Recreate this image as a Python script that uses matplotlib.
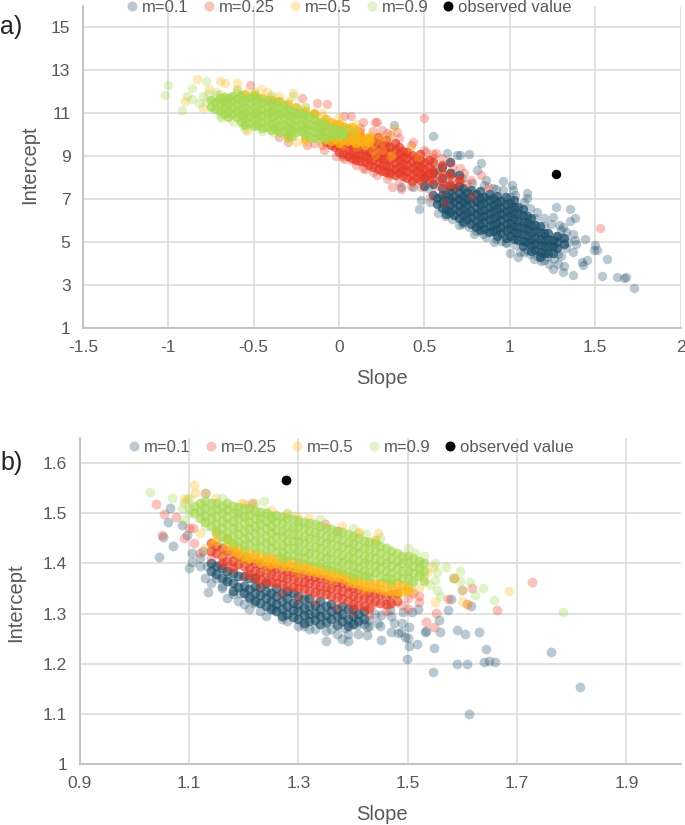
import matplotlib
matplotlib.use("Agg")
import numpy as np
import matplotlib.pyplot as plt
from matplotlib.lines import Line2D

plt.rcParams["font.family"] = ["Liberation Sans", "DejaVu Sans"]

NAMES = ["m=0.1", "m=0.25", "m=0.5", "m=0.9"]
COLORS = ["#1B4E69", "#E83A26", "#FDB714", "#A5D84E"]
OBSERVED = "observed value"

# panel a) dense parts, one (slope, [intercepts]) per column of the cloud
a_m01_core = [
    (0.60, [7.2, 6.85, 6.6]), (0.65, [7.35, 7.0, 6.72, 6.4]), (0.70, [7.3, 7.02, 6.7, 6.42, 6.1]),
    (0.75, [7.34, 6.98, 6.7, 6.38, 6.08]), (0.80, [7.22, 6.9, 6.6, 6.3, 6.0, 5.72]),
    (0.85, [7.1, 6.82, 6.5, 6.2, 5.92, 5.6]), (0.90, [7.04, 6.7, 6.42, 6.1, 5.8, 5.5]),
    (0.95, [6.9, 6.6, 6.3, 6.02, 5.7, 5.42]), (1.00, [6.8, 6.5, 6.22, 5.9, 5.6, 5.3]),
    (1.05, [6.62, 6.3, 6.0, 5.72, 5.4, 5.1]), (1.10, [6.2, 5.9, 5.6, 5.3, 5.0]),
    (1.15, [5.8, 5.52, 5.2, 4.9, 4.62]), (1.20, [5.4, 5.1, 4.82, 4.5]), (1.25, [5.1, 4.8, 4.5]),
    (0.575, [7.05, 6.75]), (0.625, [7.2, 6.9, 6.55, 6.3]), (0.675, [7.5, 7.15, 6.85, 6.55, 6.25]),
    (0.725, [7.5, 7.15, 6.85, 6.55, 6.25, 5.95]), (0.775, [7.4, 7.1, 6.8, 6.45, 6.15, 5.85]),
    (0.825, [7.35, 7.05, 6.75, 6.45, 6.15, 5.85, 5.55]), (0.875, [7.25, 6.95, 6.65, 6.35, 6.05, 5.75, 5.45]),
    (0.925, [7.15, 6.85, 6.55, 6.2, 5.9, 5.6, 5.3]), (0.975, [7.1, 6.75, 6.45, 6.15, 5.85, 5.55, 5.2]),
    (1.025, [6.95, 6.65, 6.35, 6.05, 5.75, 5.45, 5.15]), (1.075, [6.55, 6.25, 5.95, 5.65, 5.35, 5.05, 4.8]),
    (1.125, [6.1, 5.8, 5.45, 5.15, 4.85, 4.6]), (1.175, [5.75, 5.45, 5.15, 4.85, 4.55, 4.3]),
    (1.225, [5.4, 5.15, 4.8, 4.5]), (1.275, [5.3, 5.0, 4.7]), (1.32, [5.2, 4.9]),
    (0.50, [7.6, 8.0]), (0.55, [7.2, 7.7, 8.2]), (0.60, [7.5, 8.0, 8.5]), (0.65, [7.6, 8.2, 8.7]), (0.70, [7.6, 8.1]),
]
a_m025_core = [
    (-0.05, [9.5, 9.8]), (0.00, [9.2, 9.5, 9.8]), (0.05, [9.0, 9.3, 9.6, 9.9]),
    (0.10, [8.8, 9.1, 9.4, 9.7]), (0.15, [8.7, 9.0, 9.3, 9.6]), (0.20, [8.5, 8.8, 9.1, 9.4, 9.7]),
    (0.25, [8.3, 8.6, 8.9, 9.2, 9.5]), (0.30, [8.2, 8.5, 8.8, 9.1, 9.4]),
    (0.35, [8.2, 8.5, 8.8, 9.1, 9.4]), (0.40, [8.0, 8.3, 8.6, 8.9, 9.2]),
    (0.45, [8.0, 8.3, 8.6, 8.9]), (0.50, [8.1, 8.4, 8.7]),
    (-0.075, [9.65]), (-0.025, [9.4, 9.65, 9.95]), (0.025, [9.1, 9.4, 9.7, 10.0]),
    (0.075, [8.9, 9.2, 9.5, 9.8, 10.05]), (0.125, [8.75, 9.05, 9.35, 9.65, 9.95]),
    (0.175, [8.6, 8.9, 9.2, 9.5, 9.8]), (0.225, [8.4, 8.7, 9.0, 9.3, 9.6, 9.9]),
    (0.275, [8.25, 8.55, 8.85, 9.15, 9.45, 9.75]), (0.325, [8.1, 8.4, 8.7, 9.0, 9.3, 9.6]),
    (0.375, [8.05, 8.35, 8.65, 8.95, 9.25]), (0.425, [7.85, 8.15, 8.45, 8.75, 9.05]),
    (0.475, [7.9, 8.2, 8.5, 8.8, 9.1]), (0.525, [7.9, 8.2, 8.5, 8.8]),
    (0.55, [8.0, 8.3, 8.7]), (0.60, [7.8, 8.2, 8.6]), (0.65, [7.7, 8.1]), (0.70, [7.9]),
]
a_m05_core = [
    (-0.55, [11.9]), (-0.45, [11.7]), (-0.40, [11.6]), (-0.30, [11.4, 9.9]), (-0.20, [11.1, 9.8]),
    (-0.10, [9.9, 10.2, 10.6]), (-0.05, [9.7, 10.0, 10.3, 10.6]), (0.00, [9.6, 9.9, 10.2, 10.5]),
    (0.05, [9.7, 10.0, 10.3]), (0.10, [9.6, 9.9, 10.2]), (0.15, [9.5, 9.8]),
    (-0.075, [10.4, 10.7, 9.8]), (-0.025, [9.8, 10.15, 10.5]), (0.025, [9.75, 10.1, 10.4]),
    (0.075, [9.75, 10.05, 10.35]), (0.125, [9.7, 10.0]), (0.175, [9.65, 9.9]),
    (-0.50, [11.85]), (-0.35, [11.55]), (-0.25, [11.3]), (-0.15, [11.0, 10.95]),
]
a_m09_core = [
    (-0.75, [11.6, 11.3]), (-0.70, [11.7, 11.4, 11.1]), (-0.65, [11.7, 11.4, 11.1, 10.8]),
    (-0.60, [11.72, 11.4, 11.1, 10.8]), (-0.55, [11.6, 11.3, 11.0, 10.7, 10.42]),
    (-0.50, [11.6, 11.3, 11.0, 10.7, 10.4]), (-0.45, [11.5, 11.2, 10.9, 10.6, 10.3]),
    (-0.40, [11.4, 11.1, 10.8, 10.5, 10.2]), (-0.35, [11.3, 11.0, 10.7, 10.4, 10.12]),
    (-0.30, [11.2, 10.9, 10.6, 10.3, 10.02]), (-0.25, [11.0, 10.7, 10.4, 10.1]),
    (-0.20, [10.9, 10.6, 10.3, 10.0]), (-0.15, [10.7, 10.4, 10.1, 9.82]),
    (-0.10, [10.5, 10.2, 9.92]), (-0.05, [10.3, 10.0]), (0.00, [10.2, 10.0]),
    (-0.725, [11.5, 11.2]), (-0.675, [11.75, 11.5, 11.25, 10.95]), (-0.625, [11.8, 11.55, 11.25, 10.95]),
    (-0.575, [11.85, 11.5, 11.2, 10.9, 10.6]), (-0.525, [11.75, 11.45, 11.15, 10.85, 10.55]),
    (-0.475, [11.7, 11.35, 11.05, 10.75, 10.45]), (-0.425, [11.6, 11.3, 11.0, 10.7, 10.35]),
    (-0.375, [11.5, 11.2, 10.9, 10.6, 10.3]), (-0.325, [11.35, 11.05, 10.75, 10.45, 10.15]),
    (-0.275, [11.1, 10.8, 10.5, 10.2, 9.95]), (-0.225, [11.0, 10.75, 10.45, 10.15]),
    (-0.175, [10.8, 10.5, 10.2, 9.9]), (-0.125, [10.6, 10.3, 10.0]), (-0.075, [10.4, 10.1, 9.85]),
    (-0.025, [10.25, 10.0]), (0.025, [10.15, 10.0]),
]

# panel a) scattered points, read one by one
a_m01_edge = [
    (1.73, 2.84), (1.67, 3.31), (1.68, 3.36), (1.63, 3.39), (1.54, 3.42), (1.57, 4.22), (1.50, 4.86),
    (1.51, 4.63), (1.49, 4.63), (1.44, 5.16), (1.38, 5.09), (1.39, 4.91), (1.37, 4.55), (1.37, 3.47),
    (1.42, 4.08), (1.45, 4.16), (1.43, 3.93), (1.31, 3.62), (1.25, 3.73), (1.23, 4.0), (1.32, 3.88),
    (1.28, 4.0), (1.35, 6.53), (1.38, 6.1), (1.35, 6.0), (1.27, 6.63), (1.25, 6.15), (1.31, 5.71),
    (1.29, 5.79), (1.0, 4.5), (1.05, 4.32), (1.06, 4.55), (0.91, 5.0), (0.79, 5.36), (0.70, 5.79),
    (0.76, 5.71), (0.62, 6.22), (0.47, 6.55), (0.55, 9.95), (0.32, 10.44), (0.63, 9.16), (0.69, 9.05),
    (0.71, 9.05), (0.76, 9.09), (0.83, 8.69), (0.81, 8.35), (0.86, 7.88), (0.96, 7.85), (1.01, 7.65),
    (1.1, 7.26), (1.1, 7.03), (1.16, 6.41), (1.02, 7.42), (0.36, 7.54), (0.43, 7.54), (0.53, 6.88),
    (0.48, 6.95), (0.52, 7.5), (0.58, 8.4), (0.66, 8.2), (0.72, 8.0), (0.9, 7.5), (1.0, 7.1), (1.15, 6.1),
    (1.2, 5.75), (1.3, 5.2), (1.33, 4.7), (1.28, 4.45), (1.22, 4.3), (1.12, 4.45), (0.95, 5.05), (0.84, 5.35),
    (0.58, 6.35), (0.66, 6.05), (0.72, 5.85), (0.8, 5.5), (0.86, 5.25), (0.92, 5.12), (0.98, 4.95), (1.03, 4.85),
    (1.1, 4.65), (1.16, 4.35), (1.2, 4.15), (1.26, 4.2), (1.3, 4.35), (1.34, 5.0), (1.37, 5.35), (1.3, 5.55),
    (1.24, 5.85), (1.2, 6.1), (1.12, 6.6), (1.08, 6.85), (1.03, 7.2), (0.96, 7.4), (0.92, 7.45), (0.85, 7.65),
    (0.78, 7.75), (1.33, 5.45), (1.27, 5.3), (1.24, 4.9), (1.18, 4.1), (1.14, 4.2), (1.08, 4.55), (0.98, 5.0),
]
a_m025_edge = [
    (0.5, 10.78), (1.53, 5.64), (0.78, 7.14), (0.87, 7.54), (0.83, 8.12), (0.71, 8.43), (0.65, 8.74),
    (0.57, 9.12), (0.51, 9.2), (0.77, 7.88), (0.71, 7.88), (0.61, 7.42), (0.62, 6.88), (0.53, 7.1),
    (0.36, 7.45), (0.31, 7.54), (0.29, 8.1), (0.22, 10.6), (0.34, 10.13), (0.43, 9.67), (0.55, 8.35),
    (0.59, 7.88), (0.65, 8.0), (0.69, 7.73), (0.63, 7.6), (0.47, 8.66), (0.51, 8.08), (0.56, 7.6),
    (-0.52, 12.28), (-0.22, 11.7), (-0.13, 11.47), (-0.07, 11.44), (0.07, 10.88), (0.14, 10.56),
    (0.21, 10.6), (-0.35, 9.88), (-0.3, 9.67), (-0.19, 9.52), (-0.09, 9.28), (0.02, 8.97), (0.07, 8.8),
    (0.14, 8.42), (0.2, 8.27), (0.03, 10.85), (0.12, 10.3), (0.25, 10.2), (0.3, 10.0), (0.55, 8.9),
    (-0.02, 9.0), (0.03, 8.85), (0.1, 8.6), (0.15, 8.4), (0.22, 8.1), (0.28, 7.95), (0.35, 7.8), (0.42, 7.6),
    (0.48, 7.55), (0.12, 10.1), (0.2, 10.15), (0.28, 10.05), (0.35, 9.85), (0.42, 9.5), (0.5, 9.3), (0.55, 9.1),
    (0.6, 8.9), (0.66, 8.5), (0.73, 8.2), (0.75, 7.7), (0.68, 7.5), (-0.1, 9.5), (-0.15, 9.6),
]
a_m05_edge = [
    (-0.83, 12.6), (-0.70, 12.48), (-0.67, 12.4), (-0.6, 12.38), (-0.54, 10.17), (-0.8, 11.23),
    (-0.9, 11.55), (-0.27, 11.94), (-0.46, 12.1), (-0.42, 12.0), (-0.35, 11.8), (-0.76, 12.1),
    (-0.25, 9.67), (0.25, 9.3), (0.3, 9.0), (0.2, 9.9), (0.18, 9.98), (0.2, 9.6), (0.21, 9.05),
    (0.31, 9.05), (0.42, 9.43), (0.46, 8.94), (0.24, 9.9), (0.29, 9.93), (0.32, 10.3), (-0.1, 11.0),
    (0.0, 10.8), (0.1, 10.5), (-0.7, 11.9), (-0.6, 12.1), (-0.5, 12.0), (-0.4, 11.75), (-0.3, 11.55),
    (-0.2, 11.3), (-0.1, 10.85), (-0.3, 10.0), (-0.2, 9.65), (-0.1, 9.6), (0.02, 9.45), (0.1, 9.4),
    (0.2, 9.3), (0.25, 9.7),
]
a_m09_edge = [
    (-1.0, 12.28), (-1.02, 11.84), (-0.92, 11.13), (-0.78, 12.47), (-0.86, 12.14), (-0.89, 11.78),
    (-0.86, 11.63), (-0.82, 11.47), (-0.8, 11.78), (-0.27, 11.78), (-0.69, 10.77), (-0.56, 10.45),
    (-0.72, 12.0), (-0.6, 12.05), (-0.5, 11.95), (-0.4, 11.85), (-0.2, 11.3),
    (-0.78, 11.5), (-0.77, 11.9), (-0.72, 11.85), (-0.7, 10.85), (-0.62, 10.6), (-0.55, 10.25), (-0.45, 10.15),
    (-0.38, 10.05), (-0.3, 9.85), (-0.6, 11.95), (-0.5, 11.85), (-0.35, 11.5), (-0.25, 11.25), (-0.15, 10.95),
    (-0.08, 10.65), (0.04, 10.3), (0.08, 10.1), (-0.12, 9.8),
]
a_observed = [(1.27, 8.15)]

# panel b) dense parts
b_m01_core = [
    (1.14, [1.40, 1.385]), (1.16, [1.39, 1.37]), (1.18, [1.38, 1.36, 1.345]), (1.20, [1.375, 1.355, 1.34]),
    (1.22, [1.37, 1.355, 1.34, 1.325]), (1.24, [1.36, 1.345, 1.33, 1.315]), (1.26, [1.35, 1.335, 1.32, 1.305]),
    (1.28, [1.345, 1.33, 1.315, 1.30]), (1.30, [1.335, 1.32, 1.305, 1.29]), (1.32, [1.33, 1.315, 1.30, 1.285]),
    (1.34, [1.325, 1.31, 1.295, 1.28]), (1.36, [1.32, 1.305, 1.29]), (1.38, [1.315, 1.30, 1.285]),
    (1.40, [1.31, 1.295, 1.28]), (1.42, [1.305, 1.29]),
    (1.15, [1.395, 1.378]), (1.17, [1.385, 1.365]), (1.19, [1.375, 1.352]), (1.21, [1.37, 1.348, 1.332]),
    (1.23, [1.352, 1.337, 1.322]), (1.25, [1.34, 1.325, 1.31]), (1.27, [1.34, 1.325, 1.31, 1.295]),
    (1.29, [1.34, 1.322, 1.308, 1.293]), (1.31, [1.328, 1.312, 1.297, 1.282]), (1.33, [1.318, 1.302, 1.288]),
    (1.35, [1.315, 1.298, 1.283]), (1.37, [1.31, 1.295, 1.278]), (1.39, [1.31, 1.29, 1.275]), (1.41, [1.30, 1.285]),
]
b_m025_core = [
    (1.14, [1.44, 1.425]), (1.16, [1.43, 1.415, 1.40]), (1.18, [1.42, 1.405, 1.39]), (1.20, [1.41, 1.395]),
    (1.22, [1.40, 1.385, 1.37]), (1.24, [1.395, 1.38, 1.365]), (1.26, [1.39, 1.375, 1.36]),
    (1.28, [1.385, 1.37, 1.355]), (1.30, [1.38, 1.365, 1.35]), (1.32, [1.375, 1.36, 1.345]),
    (1.34, [1.37, 1.355, 1.34]), (1.36, [1.365, 1.35, 1.335]), (1.38, [1.36, 1.345, 1.33]),
    (1.40, [1.35, 1.335, 1.32]), (1.42, [1.345, 1.33, 1.315]), (1.44, [1.34, 1.325]),
    (1.46, [1.335, 1.32]), (1.48, [1.34, 1.325]),
    (1.15, [1.435, 1.42]), (1.17, [1.425, 1.405]), (1.19, [1.415, 1.398]), (1.21, [1.405, 1.39, 1.378]),
    (1.23, [1.398, 1.382, 1.368]), (1.25, [1.392, 1.378, 1.362]), (1.27, [1.388, 1.372, 1.358]),
    (1.29, [1.382, 1.368, 1.352]), (1.31, [1.378, 1.362, 1.348]), (1.33, [1.372, 1.358, 1.342]),
    (1.35, [1.368, 1.352, 1.338]), (1.37, [1.362, 1.348, 1.332]), (1.39, [1.355, 1.34, 1.325]),
    (1.41, [1.348, 1.332, 1.318]), (1.43, [1.342, 1.328, 1.312]), (1.45, [1.338, 1.322]), (1.47, [1.338, 1.322]),
]
b_m05_core = [
    (1.15, [1.46, 1.445]), (1.18, [1.435, 1.425]), (1.20, [1.425, 1.415]), (1.22, [1.42, 1.41]),
    (1.24, [1.415, 1.405]), (1.26, [1.41, 1.40]), (1.28, [1.405, 1.395]), (1.30, [1.40, 1.39]),
    (1.32, [1.395, 1.385]), (1.34, [1.39, 1.38]), (1.36, [1.385, 1.375]), (1.38, [1.38, 1.37]),
    (1.40, [1.37, 1.36]), (1.42, [1.365, 1.355]), (1.44, [1.36, 1.35]), (1.46, [1.36, 1.345]),
    (1.48, [1.36, 1.345]), (1.50, [1.355, 1.345]),
    (1.17, [1.45, 1.435]), (1.19, [1.43, 1.42]), (1.21, [1.42, 1.41]), (1.23, [1.415, 1.402]),
    (1.25, [1.41, 1.398]), (1.27, [1.405, 1.395]), (1.29, [1.402, 1.392]), (1.31, [1.398, 1.388]),
    (1.33, [1.392, 1.382]), (1.35, [1.388, 1.378]), (1.37, [1.382, 1.372]), (1.39, [1.375, 1.365]),
    (1.41, [1.368, 1.358]), (1.43, [1.362, 1.352]), (1.45, [1.36, 1.348]), (1.47, [1.358, 1.345]), (1.49, [1.356, 1.344]),
]
b_m09_core = [
    (1.12, [1.52, 1.505, 1.49]), (1.14, [1.52, 1.505, 1.49, 1.475]), (1.16, [1.515, 1.50, 1.485, 1.47, 1.455]),
    (1.18, [1.515, 1.50, 1.485, 1.47, 1.455, 1.44]), (1.20, [1.51, 1.495, 1.48, 1.465, 1.45, 1.437]),
    (1.22, [1.505, 1.49, 1.475, 1.46, 1.445, 1.43]), (1.24, [1.50, 1.485, 1.47, 1.455, 1.44, 1.425]),
    (1.26, [1.497, 1.482, 1.467, 1.452, 1.437, 1.422]), (1.28, [1.49, 1.475, 1.46, 1.445, 1.43, 1.415]),
    (1.30, [1.487, 1.472, 1.457, 1.442, 1.427, 1.412]), (1.32, [1.48, 1.465, 1.45, 1.435, 1.42, 1.405]),
    (1.34, [1.475, 1.46, 1.445, 1.43, 1.415, 1.40]), (1.36, [1.468, 1.453, 1.438, 1.423, 1.408, 1.393]),
    (1.38, [1.462, 1.447, 1.432, 1.417, 1.402, 1.387]), (1.40, [1.455, 1.44, 1.425, 1.41, 1.395, 1.38]),
    (1.42, [1.445, 1.43, 1.415, 1.40, 1.385, 1.375]), (1.44, [1.44, 1.425, 1.41, 1.395, 1.38]),
    (1.46, [1.43, 1.415, 1.40, 1.385, 1.37]), (1.48, [1.42, 1.405, 1.39, 1.375]),
    (1.50, [1.415, 1.40, 1.385, 1.37]), (1.52, [1.405, 1.39, 1.375]),
    (1.11, [1.515, 1.50]), (1.13, [1.525, 1.51, 1.495, 1.482]), (1.15, [1.52, 1.508, 1.492, 1.478, 1.465]),
    (1.17, [1.52, 1.508, 1.492, 1.478, 1.462, 1.448]), (1.19, [1.512, 1.50, 1.49, 1.472, 1.458, 1.443]),
    (1.21, [1.51, 1.497, 1.482, 1.468, 1.453, 1.438]), (1.23, [1.502, 1.49, 1.478, 1.462, 1.447, 1.432]),
    (1.25, [1.495, 1.49, 1.475, 1.46, 1.445, 1.43]), (1.27, [1.492, 1.48, 1.465, 1.452, 1.437, 1.422, 1.41]),
    (1.29, [1.488, 1.473, 1.458, 1.444, 1.43, 1.416]), (1.31, [1.483, 1.47, 1.455, 1.44, 1.425, 1.41]),
    (1.33, [1.478, 1.463, 1.448, 1.433, 1.418, 1.403]), (1.35, [1.47, 1.455, 1.44, 1.425, 1.41, 1.395]),
    (1.37, [1.465, 1.45, 1.435, 1.42, 1.405, 1.39]), (1.39, [1.458, 1.443, 1.428, 1.413, 1.398, 1.383]),
    (1.41, [1.45, 1.435, 1.42, 1.405, 1.39, 1.378]), (1.43, [1.443, 1.428, 1.413, 1.398, 1.383, 1.372]),
    (1.45, [1.435, 1.42, 1.405, 1.39, 1.375]), (1.47, [1.425, 1.41, 1.395, 1.38, 1.368]),
    (1.49, [1.415, 1.40, 1.385, 1.37]), (1.51, [1.41, 1.395, 1.38, 1.365]), (1.53, [1.40, 1.385, 1.365]),
]

# panel b) scattered points
b_m01_edge = [
    (1.816, 1.153), (1.763, 1.224), (1.613, 1.099), (1.546, 1.183), (1.498, 1.209), (1.591, 1.2), (1.609, 1.2),
    (1.639, 1.203), (1.649, 1.206), (1.66, 1.203), (1.643, 1.23), (1.548, 1.232), (1.517, 1.239), (1.502, 1.236),
    (1.501, 1.251), (1.495, 1.254), (1.483, 1.261), (1.488, 1.264), (1.451, 1.248), (1.426, 1.257), (1.426, 1.274),
    (1.56, 1.264), (1.534, 1.265), (1.532, 1.263), (1.591, 1.267), (1.605, 1.26), (1.63, 1.264), (1.558, 1.287),
    (1.573, 1.307), (1.616, 1.315), (1.58, 1.328), (1.518, 1.309), (1.507, 1.304), (1.503, 1.274), (1.489, 1.281),
    (1.475, 1.281), (1.469, 1.264), (1.446, 1.281), (1.43, 1.287), (1.385, 1.271), (1.407, 1.277), (1.452, 1.297),
    (1.468, 1.307), (1.492, 1.304), (1.045, 1.413), (1.07, 1.434), (1.053, 1.452), (1.061, 1.483), (1.065, 1.51),
    (1.096, 1.457), (1.105, 1.42), (1.105, 1.403), (1.12, 1.395), (1.132, 1.394), (1.134, 1.342), (1.169, 1.331),
    (1.181, 1.338), (1.193, 1.341), (1.218, 1.322), (1.212, 1.328), (1.254, 1.31), (1.126, 1.424), (1.15, 1.371),
    (1.169, 1.368), (1.087, 1.477), (1.157, 1.397), (1.28, 1.285), (1.31, 1.275), (1.35, 1.265), (1.37, 1.26),
    (1.33, 1.27), (1.24, 1.295), (1.41, 1.26), (1.16, 1.355), (1.19, 1.325), (1.2, 1.32), (1.23, 1.305),
    (1.27, 1.29), (1.3, 1.275), (1.32, 1.27), (1.36, 1.27), (1.39, 1.26), (1.43, 1.275), (1.45, 1.275),
    (1.44, 1.3), (1.47, 1.295), (1.42, 1.28), (1.39, 1.245), (1.35, 1.245), (1.38, 1.25), (1.13, 1.37),
    (1.14, 1.36), (1.1, 1.39), (1.12, 1.41), (1.16, 1.35), (1.21, 1.31),
]
b_m025_edge = [
    (1.04, 1.518), (1.055, 1.498), (1.051, 1.457), (1.129, 1.54), (1.216, 1.521), (1.348, 1.478), (1.37, 1.464),
    (1.077, 1.493), (1.108, 1.47), (1.727, 1.362), (1.663, 1.307), (1.618, 1.35), (1.609, 1.319), (1.552, 1.302),
    (1.533, 1.283), (1.548, 1.273), (1.52, 1.323), (1.574, 1.328), (1.599, 1.347), (1.584, 1.37), (1.489, 1.317),
    (1.466, 1.319), (1.434, 1.317), (1.51, 1.34), (1.5, 1.33), (1.11, 1.44), (1.12, 1.42), (1.14, 1.41),
    (1.17, 1.39), (1.2, 1.375), (1.23, 1.355), (1.27, 1.34), (1.3, 1.33), (1.33, 1.325), (1.37, 1.315),
    (1.4, 1.305), (1.43, 1.3), (1.46, 1.305), (1.5, 1.31), (1.52, 1.335), (1.1, 1.47), (1.09, 1.45),
]
b_m05_edge = [
    (1.11, 1.556), (1.111, 1.54), (1.091, 1.528), (1.097, 1.528), (1.196, 1.521), (1.215, 1.515), (1.28, 1.499),
    (1.297, 1.495), (1.411, 1.462), (1.44, 1.446), (1.205, 1.404), (1.685, 1.344), (1.446, 1.46), (1.44, 1.446),
    (1.41, 1.461), (1.546, 1.393), (1.536, 1.383), (1.55, 1.324), (1.599, 1.325), (1.584, 1.37), (1.507, 1.344),
    (1.608, 1.32), (1.13, 1.43), (1.12, 1.46), (1.14, 1.44), (1.16, 1.42), (1.19, 1.41), (1.24, 1.39),
    (1.3, 1.38), (1.36, 1.365), (1.42, 1.345), (1.48, 1.335), (1.52, 1.35), (1.53, 1.37), (1.15, 1.53),
    (1.2, 1.518), (1.25, 1.507), (1.32, 1.49), (1.38, 1.475),
]
b_m09_edge = [
    (1.029, 1.543), (1.068, 1.53), (1.131, 1.541), (1.238, 1.525), (1.087, 1.51), (1.09, 1.487), (1.242, 1.503),
    (1.784, 1.304), (1.658, 1.326), (1.637, 1.35), (1.623, 1.336), (1.614, 1.362), (1.596, 1.385), (1.571, 1.393),
    (1.582, 1.37), (1.599, 1.347), (1.596, 1.364), (1.553, 1.383), (1.55, 1.367), (1.553, 1.347), (1.541, 1.357),
    (1.559, 1.334), (1.513, 1.42), (1.424, 1.458), (1.521, 1.4), (1.523, 1.38), (1.507, 1.36), (1.1, 1.51),
    (1.1, 1.5), (1.09, 1.52), (1.1, 1.53), (1.16, 1.53), (1.22, 1.52), (1.28, 1.5), (1.34, 1.488), (1.4, 1.47),
    (1.45, 1.45), (1.5, 1.43), (1.53, 1.415), (1.55, 1.4), (1.2, 1.425), (1.3, 1.4), (1.4, 1.37), (1.47, 1.36),
    (1.13, 1.475), (1.16, 1.445),
]
b_observed = [(1.277, 1.566)]

a_xticks = [-1.5, -1, -0.5, 0, 0.5, 1, 1.5, 2]
a_xlabels = ["-1.5", "-1", "-0.5", "0", "0.5", "1", "1.5", "2"]
a_yticks = [1, 3, 5, 7, 9, 11, 13, 15]
b_xticks = [0.9, 1.1, 1.3, 1.5, 1.7, 1.9]
b_yticks = [1, 1.1, 1.2, 1.3, 1.4, 1.5, 1.6]
b_ylabels = ["1", "1.1", "1.2", "1.3", "1.4", "1.5", "1.6"]


def expand(rows):
    pts = [(x, y) for x, ys in rows for y in ys]
    return np.array(pts)


def draw_panel(ax, cores, edges, observed, size, core_alpha):
    # scattered points are the pale ones, the packed part of each cloud is drawn stronger
    for core, edge, color in zip(cores, edges, COLORS):
        pts = np.array(edge)
        ax.scatter(pts[:, 0], pts[:, 1], s=size, color=color, alpha=0.3, linewidths=0, zorder=3)
        pts = expand(core)
        ax.scatter(pts[:, 0], pts[:, 1], s=size, color=color, alpha=core_alpha, linewidths=0, zorder=3)
    pts = np.array(observed)
    ax.scatter(pts[:, 0], pts[:, 1], s=size, color="black", linewidths=0, zorder=4)

    ax.grid(True, color="#D9D9D9", lw=1.1)
    ax.set_axisbelow(True)
    for side in ["top", "right"]:
        ax.spines[side].set_visible(False)
    for side in ["left", "bottom"]:
        ax.spines[side].set_color("#BFBFBF")
        ax.spines[side].set_linewidth(1.3)
    ax.tick_params(length=0, labelsize=12.5, labelcolor="#595959", pad=9)

    handles = [Line2D([], [], ls="", marker="o", ms=7.2, mew=0, color=c, alpha=0.3) for c in COLORS]
    handles.append(Line2D([], [], ls="", marker="o", ms=7.2, mew=0, color="black"))
    return ax.legend(handles, NAMES + [OBSERVED], ncol=5, frameon=False, fontsize=12,
                     labelcolor="#595959", handlelength=1, handletextpad=0.1, columnspacing=0.7,
                     borderpad=0, borderaxespad=0)


W, H = 685.0, 825.0
fig = plt.figure(figsize=(6.85, 8.25), dpi=100)

ax_a = fig.add_axes([83 / W, 1 - 328 / H, (680.6 - 83) / W, (328 - 5.5) / H])
leg = draw_panel(ax_a, [a_m01_core, a_m025_core, a_m05_core, a_m09_core],
                 [a_m01_edge, a_m025_edge, a_m05_edge, a_m09_edge], a_observed, 46, 0.72)
leg.set_bbox_to_anchor(((124 - 83) / 597.6, 1 - 2 / 322.5))
leg.set_loc("center left")
ax_a.set_xlim(-1.5, 2)
ax_a.set_ylim(1, 16)
ax_a.set_xticks(a_xticks, a_xlabels)
ax_a.set_yticks(a_yticks)

ax_b = fig.add_axes([79.7 / W, 1 - 764 / H, (681 - 79.7) / W, (764 - 438) / H])
leg = draw_panel(ax_b, [b_m01_core, b_m025_core, b_m05_core, b_m09_core],
                 [b_m01_edge, b_m025_edge, b_m05_edge, b_m09_edge], b_observed, 50, 0.65)
leg.set_bbox_to_anchor(((126 - 79.7) / 601.3, 1 - 9 / 326))
leg.set_loc("center left")
ax_b.set_xlim(0.9, 2.0)
ax_b.set_ylim(1, 1.65)
ax_b.set_xticks(b_xticks)
ax_b.set_yticks(b_yticks, b_ylabels)

fig.text(382 / W, 1 - 378 / H, "Slope", fontsize=14.5, color="#595959", ha="center", va="center")
fig.text(30 / W, 1 - 165 / H, "Intercept", fontsize=14.5, color="#595959", ha="center", va="center", rotation=90)
fig.text(382 / W, 1 - 815 / H, "Slope", fontsize=14.5, color="#595959", ha="center", va="center")
fig.text(16 / W, 1 - 603 / H, "Intercept", fontsize=14.5, color="#595959", ha="center", va="center", rotation=90)
fig.text(0 / W, 1 - 27 / H, "a)", fontsize=18, color="#222222", ha="left", va="center")
fig.text(0 / W, 1 - 463 / H, "b)", fontsize=18, color="#222222", ha="left", va="center")

fig.savefig("out.png", dpi=100)
